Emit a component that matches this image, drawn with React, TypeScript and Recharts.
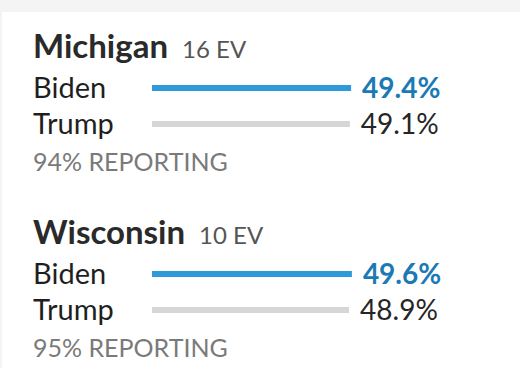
import React from "react";
import { BarChart, Bar, XAxis, YAxis, LabelList, Cell } from "recharts";

const states = ["Michigan", "Wisconsin"];
const electoralVotes = [16, 10];
const candidates = ["Biden", "Trump"];
const bidenPct = [49.4, 49.6];
const trumpPct = [49.1, 48.9];
const reportingPct = [94, 95];

const FONT = "Lato, 'Noto Sans', sans-serif";
const barColors = ["#2e9ad9", "#d6d6d6"];
const valueColors = ["#1b7ab4", "#262626"];
const valueWeights = [700, 400];

const NameTick = (props: any) => {
  const { y, payload } = props;
  return (
    <text x={33} y={y + 10} fontFamily={FONT} fontSize={29} fill="#1f1f1f" textAnchor="start">
      {payload.value}
    </text>
  );
};

const ValueLabel = (props: any) => {
  const { x, y, width, height, value, index } = props;
  return (
    <text
      x={x + width + 11}
      y={y + height / 2 + 10}
      fontFamily={FONT}
      fontSize={28}
      fontWeight={valueWeights[index]}
      fill={valueColors[index]}
      textAnchor="start"
    >
      {value.toFixed(1)}%
    </text>
  );
};

function StateChart({ i }: { i: number }) {
  const data = candidates.map((c, k) => ({
    name: c,
    pct: k === 0 ? bidenPct[i] : trumpPct[i],
  }));
  return (
    <div style={{ position: "absolute", left: 0, top: 70 + i * 186 }}>
      <BarChart
        width={520}
        height={72}
        data={data}
        layout="vertical"
        margin={{ top: 0, right: 166.5, bottom: 0, left: 0 }}
      >
        <XAxis type="number" domain={[0, 50]} hide />
        <YAxis
          type="category"
          dataKey="name"
          width={152}
          axisLine={false}
          tickLine={false}
          tick={<NameTick />}
        />
        <Bar dataKey="pct" barSize={6} isAnimationActive={false}>
          {data.map((d, k) => (
            <Cell key={d.name} fill={barColors[k]} />
          ))}
          <LabelList dataKey="pct" content={<ValueLabel />} />
        </Bar>
      </BarChart>
    </div>
  );
}

export default function App() {
  return (
    <div
      style={{
        position: "absolute",
        left: 0,
        top: 0,
        width: 520,
        height: 368,
        background: "#f4f4f4",
        overflow: "hidden",
        fontFamily: FONT,
      }}
    >
      <div
        style={{
          position: "absolute",
          left: 2,
          top: 12,
          width: 518,
          height: 356,
          background: "#ffffff",
        }}
      />
      <svg
        width={520}
        height={368}
        style={{ position: "absolute", left: 0, top: 0, pointerEvents: "none" }}
      >
        {states.map((s, i) => (
          <g key={s}>
            <text x={33} y={58 + i * 186} fontFamily={FONT} fontSize={33} fontWeight={700} fill="#2a2a2a">
              {s}
              <tspan dx={14} fontSize={24} fontWeight={400} fill="#555555">
                {electoralVotes[i]} EV
              </tspan>
            </text>
            <text x={33} y={171 + i * 186} fontFamily={FONT} fontSize={25} fill="#7a7a7a">
              {reportingPct[i]}% REPORTING
            </text>
          </g>
        ))}
      </svg>
      {states.map((s, i) => (
        <StateChart key={s} i={i} />
      ))}
    </div>
  );
}
